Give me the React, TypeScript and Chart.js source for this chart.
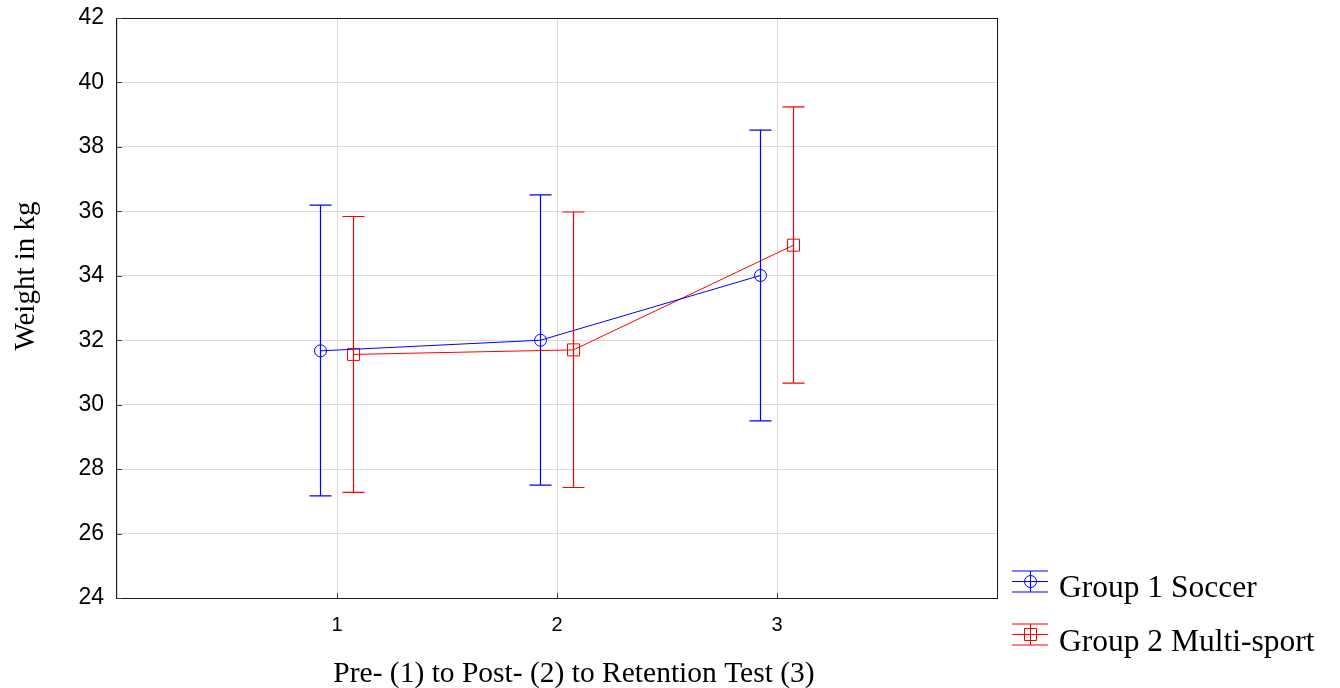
import React, { useEffect, useRef } from "react";
import { Chart, registerables } from "chart.js";

Chart.register(...registerables);

// ---- Data ----
const testLabels = ["1", "2", "3"];
const testPositions = [1, 2, 3];
const seriesNames = ["Group 1 Soccer", "Group 2 Multi-sport"];
const group1Mean = [31.67, 32.0, 34.01];
const group1Upper = [36.19, 36.51, 38.52];
const group1Lower = [27.17, 27.5, 29.5];
const group2Mean = [31.56, 31.7, 34.95];
const group2Upper = [35.84, 35.98, 39.24];
const group2Lower = [27.28, 27.43, 30.67];
const yTicks = [24, 26, 28, 30, 32, 34, 36, 38, 40, 42];
const xTitle = "Pre- (1) to Post- (2) to Retention Test (3)";
const yTitle = "Weight in kg";

// ---- Styles ----
const BLUE = "rgb(0,0,255)";
const RED = "rgb(255,0,0)";
const DODGE = 0.075;
const CAP = 11;

export default function App() {
  const ref = useRef<HTMLCanvasElement | null>(null);

  useEffect(() => {
    document.body.style.margin = "0";
    const canvas = ref.current!;
    const g1 = testPositions.map((p, i) => ({ x: p - DODGE, y: group1Mean[i] }));
    const g2 = testPositions.map((p, i) => ({ x: p + DODGE, y: group2Mean[i] }));
    const errs = [
      { color: BLUE, xs: g1.map((d) => d.x), up: group1Upper, lo: group1Lower },
      { color: RED, xs: g2.map((d) => d.x), up: group2Upper, lo: group2Lower },
    ];

    const decor = {
      id: "decor",
      afterDatasetsDraw(chart: any) {
        const ctx = chart.ctx as CanvasRenderingContext2D;
        const xs = chart.scales.x;
        const ys = chart.scales.y;
        ctx.save();
        ctx.setLineDash([]);
        ctx.globalAlpha = 1;
        ctx.lineWidth = 1.2;
        for (const e of errs) {
          for (let i = 0; i < e.xs.length; i++) {
            const px = xs.getPixelForValue(e.xs[i]);
            const pu = ys.getPixelForValue(e.up[i]);
            const pl = ys.getPixelForValue(e.lo[i]);
            ctx.beginPath();
            ctx.strokeStyle = e.color;
            ctx.moveTo(px, pu);
            ctx.lineTo(px, pl);
            ctx.moveTo(px - CAP, pu);
            ctx.lineTo(px + CAP, pu);
            ctx.moveTo(px - CAP, pl);
            ctx.lineTo(px + CAP, pl);
            ctx.stroke();
          }
        }
        ctx.restore();
      },
      afterDraw(chart: any) {
        const ctx = chart.ctx as CanvasRenderingContext2D;
        const a = chart.chartArea;
        const xs = chart.scales.x;
        const ys = chart.scales.y;
        ctx.save();
        ctx.setLineDash([]);
        // border
        ctx.strokeStyle = "#1a1a1a";
        ctx.lineWidth = 1;
        ctx.strokeRect(Math.round(a.left) - 0.5, Math.round(a.top) + 0.5, Math.round(a.right - a.left) + 1, Math.round(a.bottom - a.top));
        // inner tick marks
        ctx.strokeStyle = "#444";
        ctx.beginPath();
        yTicks.forEach((v) => {
          const py = Math.round(ys.getPixelForValue(v)) + 0.5;
          ctx.moveTo(a.left, py);
          ctx.lineTo(a.left + 5, py);
        });
        testPositions.forEach((v) => {
          const px = Math.round(xs.getPixelForValue(v)) + 0.5;
          ctx.moveTo(px, a.bottom);
          ctx.lineTo(px, a.bottom - 5);
        });
        ctx.stroke();
        // titles
        ctx.fillStyle = "#000";
        ctx.font = '29.5px "Liberation Serif", "Times New Roman", serif';
        ctx.textAlign = "center";
        ctx.textBaseline = "alphabetic";
        ctx.fillText(xTitle, 574, 682);
        ctx.save();
        ctx.font = '29px "Liberation Serif", "Times New Roman", serif';
        ctx.translate(34, 276);
        ctx.rotate(-Math.PI / 2);
        ctx.fillText(yTitle, 0, 0);
        ctx.restore();
        // legend
        const rows = [
          { name: chart.data.datasets[0].label, color: BLUE, cy: 581.5, base: 597, shape: "circle" },
          { name: chart.data.datasets[1].label, color: RED, cy: 634.5, base: 651, shape: "rect" },
        ];
        ctx.textAlign = "left";
        ctx.font = '31.5px "Liberation Serif", "Times New Roman", serif';
        rows.forEach((r) => {
          ctx.strokeStyle = r.color;
          ctx.lineWidth = 1;
          ctx.beginPath();
          ctx.moveTo(1012, r.cy - 10.5);
          ctx.lineTo(1048, r.cy - 10.5);
          ctx.moveTo(1012, r.cy);
          ctx.lineTo(1048, r.cy);
          ctx.moveTo(1012, r.cy + 10.5);
          ctx.lineTo(1048, r.cy + 10.5);
          ctx.moveTo(1030.5, r.cy - 10.5);
          ctx.lineTo(1030.5, r.cy + 10.5);
          ctx.stroke();
          ctx.beginPath();
          if (r.shape === "circle") {
            ctx.arc(1030.5, r.cy, 6, 0, Math.PI * 2);
          } else {
            ctx.rect(1024.5, r.cy - 6, 12, 12);
          }
          ctx.stroke();
          ctx.fillStyle = "#000";
          ctx.fillText(r.name, 1059, r.base);
        });
        ctx.restore();
      },
    };

    const chart = new Chart(canvas, {
      type: "line",
      data: {
        datasets: [
          {
            label: seriesNames[0],
            data: g1,
            borderColor: BLUE,
            borderWidth: 1,
            pointStyle: "circle",
            pointRadius: 6,
            pointBorderWidth: 1,
            pointBorderColor: BLUE,
            pointBackgroundColor: "rgba(0,0,0,0)",
            tension: 0,
          },
          {
            label: seriesNames[1],
            data: g2,
            borderColor: RED,
            borderWidth: 1,
            pointStyle: "rect",
            pointRadius: 8.5,
            pointBorderWidth: 1,
            pointBorderColor: RED,
            pointBackgroundColor: "rgba(0,0,0,0)",
            tension: 0,
          },
        ],
      },
      options: {
        responsive: false,
        animation: false,
        layout: { padding: { top: 18, right: 343, left: 0, bottom: 0 } },
        plugins: { legend: { display: false }, tooltip: { enabled: false } },
        scales: {
          x: {
            type: "linear",
            min: 0,
            max: 4,
            afterFit: (s: any) => {
              s.height = 90;
              s.paddingLeft = 0;
              s.paddingRight = 0;
            },
            afterBuildTicks: (s: any) => {
              s.ticks = [0, ...testPositions, 4].map((v) => ({ value: v }));
            },
            ticks: {
              padding: 15,
              color: "#000",
              font: { family: '"Liberation Sans", Arial, sans-serif', size: 20 },
              callback: (v: any) => {
                const i = testPositions.indexOf(Number(v));
                return i >= 0 ? testLabels[i] : "";
              },
              maxRotation: 0,
              autoSkip: false,
            },
            grid: { color: "#dadada", lineWidth: 1, drawTicks: false },
            border: { display: false },
          },
          y: {
            type: "linear",
            min: yTicks[0],
            max: yTicks[yTicks.length - 1],
            afterFit: (s: any) => {
              s.width = 117;
              s.paddingTop = 0;
              s.paddingBottom = 0;
            },
            afterBuildTicks: (s: any) => {
              s.ticks = yTicks.map((v) => ({ value: v }));
            },
            ticks: {
              padding: 13,
              color: "#000",
              font: { family: '"Liberation Sans", Arial, sans-serif', size: 23 },
              autoSkip: false,
            },
            grid: { color: "#dadada", lineWidth: 1, drawTicks: false },
            border: { display: false },
          },
        },
      },
      plugins: [decor],
    } as any);
    return () => chart.destroy();
  }, []);

  return (
    <div style={{ width: 1340, height: 688 }}>
      <canvas ref={ref} width={1340} height={688} style={{ display: "block" }} />
    </div>
  );
}
